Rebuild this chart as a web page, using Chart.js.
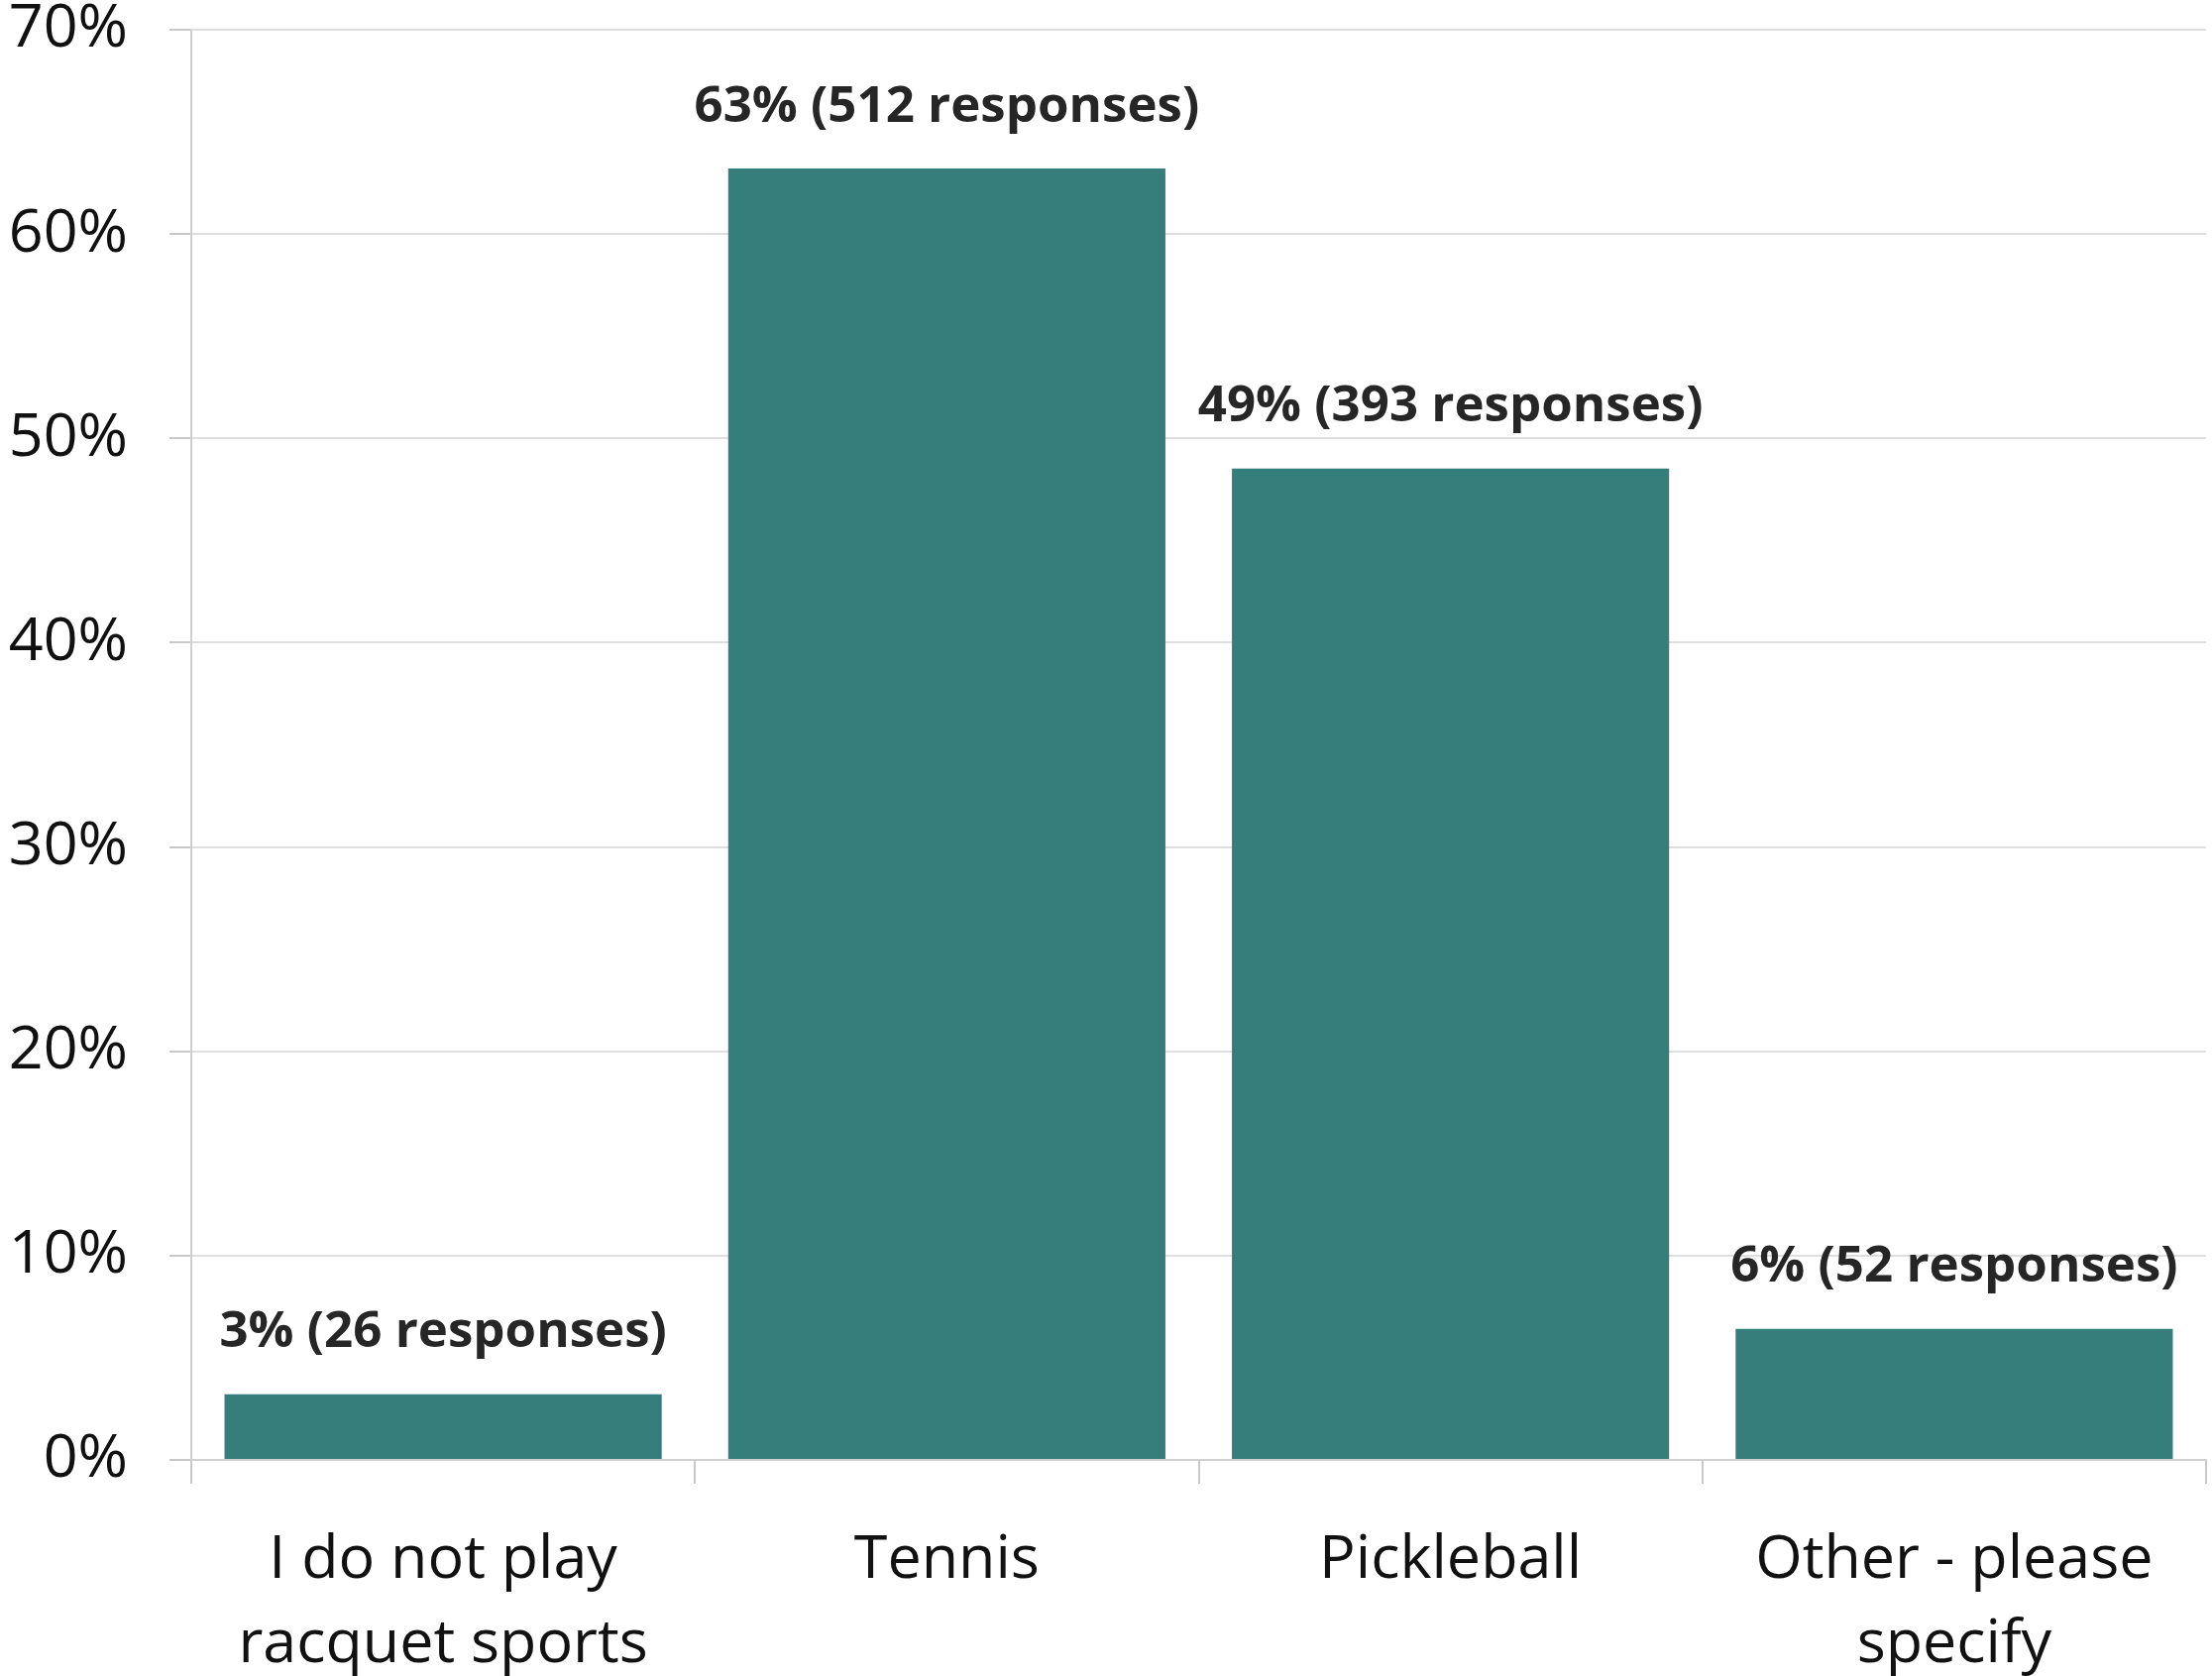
<!DOCTYPE html>
<html>
<head>
<meta charset="utf-8">
<script src="https://cdn.jsdelivr.net/npm/chart.js@4/dist/chart.umd.min.js"></script>
<style>
  html, body { margin: 0; padding: 0; background: #ffffff; }
  #wrap { width: 2232px; height: 1691px; }
</style>
</head>
<body>
<div id="wrap"><canvas id="c" width="2232" height="1691"></canvas></div>
<script>
const categories = [["I do not play", "racquet sports"], "Tennis", "Pickleball", ["Other - please", "specify"]];
const percentValues = [3.21, 63.21, 48.52, 6.42];
const responseCounts = [26, 512, 393, 52];
const yTickValues = [0, 10, 20, 30, 40, 50, 60, 70];

const barColor = '#367e7c';
const fontFamily = '"Open Sans", "Noto Sans", sans-serif';

const dataLabelPlugin = {
  id: 'dataLabelPlugin',
  afterDatasetsDraw(chart) {
    const ctx = chart.ctx;
    const meta = chart.getDatasetMeta(0);
    ctx.save();
    ctx.font = 'bold 51px ' + fontFamily;
    ctx.fillStyle = '#262626';
    ctx.textAlign = 'center';
    ctx.textBaseline = 'middle';
    meta.data.forEach((el, i) => {
      const txt = Math.round(percentValues[i]) + '% (' + responseCounts[i] + ' responses)';
      ctx.fillText(txt, el.x, el.y - 62);
    });
    ctx.restore();
  }
};

new Chart(document.getElementById('c'), {
  type: 'bar',
  data: {
    labels: categories,
    datasets: [{
      data: percentValues,
      backgroundColor: barColor,
      borderWidth: 0,
      categoryPercentage: 1.0,
      barPercentage: 0.868
    }]
  },
  options: {
    responsive: false,
    animation: false,
    devicePixelRatio: 1,
    layout: { padding: { top: 0, right: 6, left: 0, bottom: 0 } },
    plugins: {
      legend: { display: false },
      tooltip: { enabled: false }
    },
    scales: {
      x: {
        offset: true,
        grid: {
          display: true,
          offset: true,
          drawOnChartArea: false,
          drawTicks: true,
          tickLength: 24,
          color: '#c8c8c8',
          lineWidth: 2
        },
        border: { display: true, color: '#d0d0d0', width: 2 },
        ticks: {
          color: '#111111',
          font: { family: fontFamily, size: 61, lineHeight: 1.38 },
          padding: 36,
          maxRotation: 0,
          autoSkip: false
        },
        afterFit(scale) { scale.height = 1691 - 1473; }
      },
      y: {
        min: 0,
        max: 70,
        afterBuildTicks(scale) { scale.ticks = yTickValues.map(v => ({ value: v })); },
        grid: {
          color: '#dedede',
          lineWidth: 2,
          drawTicks: true,
          tickLength: 22,
          tickColor: '#c8c8c8'
        },
        border: { display: true, color: '#d0d0d0', width: 2 },
        ticks: {
          color: '#111111',
          font: { family: fontFamily, size: 61, lineHeight: 1.0 },
          padding: 42,
          callback: v => v + '%'
        },
        afterFit(scale) {
          scale.width = 193;
          scale.paddingTop = 30;
          scale.paddingBottom = 30;
        }
      }
    }
  },
  plugins: [dataLabelPlugin]
});
</script>
</body>
</html>
